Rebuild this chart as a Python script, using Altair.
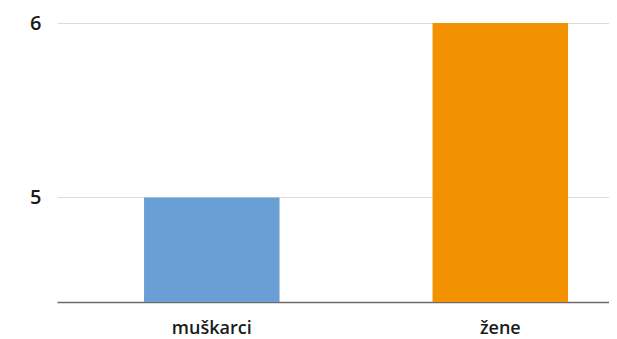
import altair as alt
import pandas as pd

categories = ["muškarci", "žene"]
values = [5, 6]
colors = ["#6A9FD6", "#F39200"]
y_ticks = [5, 6]

df = pd.DataFrame({"cat": categories, "val": values})

chart = alt.Chart(df).mark_bar(clip=True).encode(
    x=alt.X("cat:N", sort=categories, title=None,
            scale=alt.Scale(paddingInner=0.5303, paddingOuter=0.2218, align=0.68),
            axis=alt.Axis(labelAngle=0, ticks=False, domainColor="#6b6b6b", domainWidth=1.5,
                          labelFont="Open Sans", labelFontSize=18, labelFontWeight=600,
                          labelColor="#1a1a1a", labelPadding=17, grid=False)),
    y=alt.Y("val:Q", title=None,
            scale=alt.Scale(domain=[4.4, 6], nice=False, zero=False),
            axis=alt.Axis(values=y_ticks, ticks=False, domain=False, gridColor="#dcdcdc",
                          gridWidth=1, labelFont="Open Sans", labelFontSize=20,
                          labelFontWeight=600, labelColor="#1a1a1a", labelPadding=16)),
    color=alt.Color("cat:N", scale=alt.Scale(domain=categories, range=colors), legend=None),
).properties(
    width=552, height=279,
    autosize=alt.AutoSizeParams(type="none"),
    padding={"left": 49, "top": 15, "right": 0, "bottom": 36},
).configure_view(stroke=None)

chart.save("out.html", embed_options={"renderer": "svg", "actions": False})
